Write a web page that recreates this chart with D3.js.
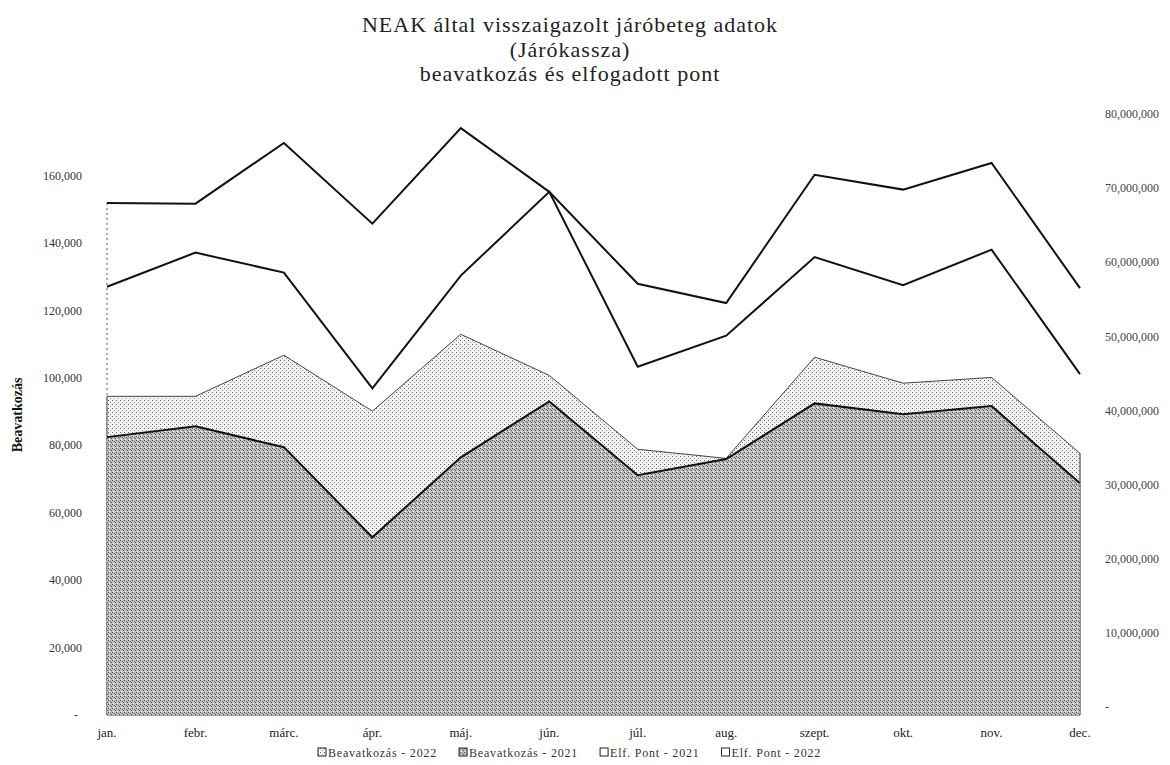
<!DOCTYPE html>
<html><head><meta charset="utf-8">
<script src="https://cdnjs.cloudflare.com/ajax/libs/d3/7.8.5/d3.min.js"></script>
<style>body{margin:0;background:#fff}svg{display:block}</style>
</head><body><svg id="c" width="1170" height="765"></svg>
<script>
const months = ["jan.","febr.","márc.","ápr.","máj.","jún.","júl.","aug.","szept.","okt.","nov.","dec."];
const beav2022 = [94500,94500,106700,90100,112900,100700,78800,76100,106100,98400,100100,77600];
const beav2021 = [82400,85600,79400,52700,76400,93000,71100,75900,92400,89200,91600,68700];
const elf2022 = [68000000,67900000,76100000,65200000,78100000,69500000,57100000,54500000,71800000,69800000,73400000,56500000];
const elf2021 = [56700000,61300000,58600000,43000000,58200000,69500000,45900000,50100000,60700000,56900000,61700000,44900000];
const leftTicks = [0,20000,40000,60000,80000,100000,120000,140000,160000];
const rightTicks = [0,10000000,20000000,30000000,40000000,50000000,60000000,70000000,80000000];
const titleLines = ["NEAK által visszaigazolt járóbeteg adatok","(Járókassza)","beavatkozás és elfogadott pont"];
const legendNames = ["Beavatkozás - 2022","Beavatkozás - 2021","Elf. Pont - 2021","Elf. Pont - 2022"];

const svg = d3.select("#c");
const serif = "'Liberation Serif','Times New Roman',serif";
const x = d3.scalePoint().domain(months).range([107,1080]);
const yL = d3.scaleLinear().domain([0,180000]).range([715,108]);
const yR = d3.scaleLinear().domain([0,80000000]).range([707,114]);

// patterns
const defs = svg.append("defs");
const pl = defs.append("pattern").attr("id","pLight").attr("patternUnits","userSpaceOnUse").attr("width",4).attr("height",4);
pl.append("rect").attr("width",4).attr("height",4).attr("fill","#f2f2f2");
pl.append("rect").attr("x",0).attr("y",0).attr("width",1).attr("height",1).attr("fill","#666");
pl.append("rect").attr("x",2).attr("y",2).attr("width",1).attr("height",1).attr("fill","#999");
const pd = defs.append("pattern").attr("id","pDark").attr("patternUnits","userSpaceOnUse").attr("width",4).attr("height",4);
pd.append("rect").attr("width",4).attr("height",4).attr("fill","#bdbdbd");
pd.append("rect").attr("x",0).attr("y",0).attr("width",1).attr("height",1).attr("fill","#505050");
pd.append("rect").attr("x",2).attr("y",1).attr("width",1).attr("height",1).attr("fill","#707070");
pd.append("rect").attr("x",1).attr("y",3).attr("width",1).attr("height",1).attr("fill","#fff");
pd.append("rect").attr("x",3).attr("y",2).attr("width",1).attr("height",1).attr("fill","#606060");

const idx = d3.range(months.length);
// left edge of upper series (dotted)
svg.append("line").attr("x1",x(months[0])).attr("x2",x(months[0]))
  .attr("y1",yR(elf2022[0])).attr("y2",yL(0))
  .attr("stroke","#555").attr("stroke-width",1).attr("stroke-dasharray","2,3");

// areas
const areaL = vals => d3.area().x(i=>x(months[i])).y0(yL(0)).y1(i=>yL(vals[i]))(idx);
svg.append("path").attr("d",areaL(beav2022)).attr("fill","url(#pLight)")
  .attr("stroke","#444").attr("stroke-width",1);
svg.append("path").attr("d",areaL(beav2021)).attr("fill","url(#pDark)").attr("stroke","none");
svg.append("path").attr("d",d3.line().x(i=>x(months[i])).y(i=>yL(beav2021[i]))(idx))
  .attr("fill","none").attr("stroke","#111").attr("stroke-width",2);
svg.append("line").attr("x1",x(months[11])).attr("x2",x(months[11]))
  .attr("y1",yL(beav2022[11])).attr("y2",yL(0)).attr("stroke","#666").attr("stroke-width",1).attr("stroke-dasharray","2,2");

// lines on right axis
const lineR = vals => d3.line().x(i=>x(months[i])).y(i=>yR(vals[i]))(idx);
[elf2021, elf2022].forEach(v=>{
  svg.append("path").attr("d",lineR(v)).attr("fill","none").attr("stroke","#111").attr("stroke-width",2);
});

// left axis labels
const fmt = d3.format(",");
svg.append("g").selectAll("text").data(leftTicks).join("text")
  .attr("x",d=>d===0?78:82).attr("y",d=>yL(d)).attr("dy","0.35em")
  .attr("text-anchor","end").attr("font-family",serif).attr("font-size",12).attr("fill","#333")
  .text(d=>d===0?"-":fmt(d));
// right axis labels
svg.append("g").selectAll("text").data(rightTicks).join("text")
  .attr("x",1105).attr("y",d=>yR(d)).attr("dy","0.35em")
  .attr("text-anchor","start").attr("font-family",serif).attr("font-size",12).attr("fill","#444")
  .text(d=>d===0?"-":fmt(d));
// x labels
svg.append("g").selectAll("text").data(months).join("text")
  .attr("x",d=>x(d)).attr("y",737).attr("text-anchor","middle")
  .attr("font-family",serif).attr("font-size",13).attr("fill","#222").text(d=>d);

// y title
svg.append("text").attr("transform","translate(22,415) rotate(-90)").attr("text-anchor","middle")
  .attr("font-family",serif).attr("font-size",14).attr("font-weight","bold").attr("fill","#111").text("Beavatkozás");

// title
svg.append("g").selectAll("text").data(titleLines).join("text")
  .attr("x",570).attr("y",(d,i)=>32+i*24.5).attr("text-anchor","middle")
  .attr("font-family",serif).attr("font-size",22).attr("letter-spacing",1).attr("fill","#222").text(d=>d);

// legend
const fills = ["url(#pLight)","url(#pDark)","#fff","#fff"];
let lx = 318;
const lg = svg.append("g");
legendNames.forEach((n,i)=>{
  lg.append("rect").attr("x",lx).attr("y",748).attr("width",8).attr("height",8)
    .attr("fill",fills[i]).attr("stroke","#222").attr("stroke-width",1);
  const t = lg.append("text").attr("x",lx+10).attr("y",757).attr("font-family",serif).attr("font-size",12)
    .attr("letter-spacing",0.8).attr("fill","#333").text(n);
  lx += 10 + t.node().getComputedTextLength() + 22;
});
</script></body></html>
